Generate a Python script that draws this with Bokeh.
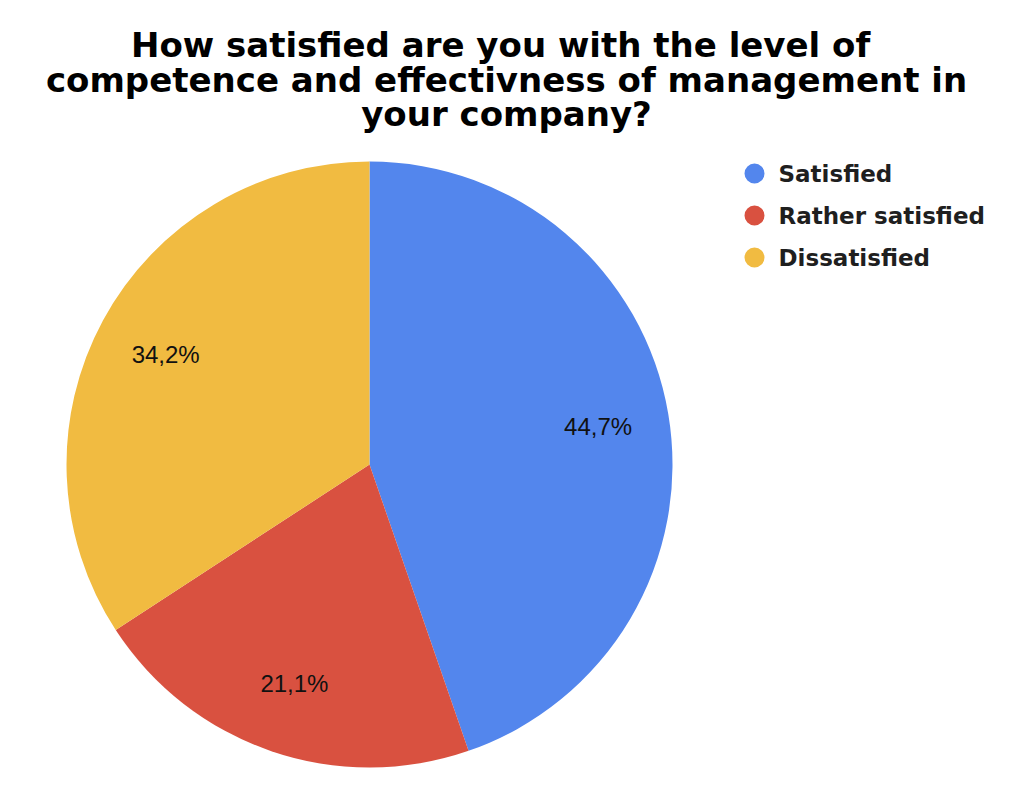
import math
from bokeh.plotting import figure
from bokeh.models import Range1d, ColumnDataSource
from bokeh.core.properties import value
from bokeh.embed import file_html
from bokeh.resources import INLINE

title_lines = ["How satisfied  are you with the level of",
               "competence and effectivness of management in",
               "your company?"]
categories = ["Satisfied", "Rather satisfied", "Dissatisfied"]
values = [44.7, 21.1, 34.2]
labels = ["44,7%", "21,1%", "34,2%"]
colors = ["#5386ED", "#D95140", "#F1BB41"]

W, H = 1008, 792
p = figure(width=W, height=H, output_backend="svg", toolbar_location=None,
           x_range=Range1d(0, W), y_range=Range1d(0, H), min_border=0)
p.axis.visible = False
p.grid.visible = False
p.outline_line_color = None
p.background_fill_color = "white"
p.border_fill_color = "white"

def py(page_y):
    return H - page_y

cx, cy, R = 369, py(464), 303
total = sum(values)
starts, ends, lx, ly = [], [], [], []
cum = 0.0
for v in values:
    a0 = math.pi / 2 - 2 * math.pi * cum / total
    a1 = math.pi / 2 - 2 * math.pi * (cum + v) / total
    starts.append(a0)
    ends.append(a1)
    mid = (a0 + a1) / 2
    lx.append(cx + 0.765 * R * math.cos(mid))
    ly.append(cy + 0.765 * R * math.sin(mid))
    cum += v

src = ColumnDataSource(dict(x=[cx] * 3, y=[cy] * 3, start=starts, end=ends,
                            color=colors, cat=categories))
p.wedge(x="x", y="y", radius=R, start_angle="start", end_angle="end",
        direction="clock", fill_color="color", line_color=None, source=src)

p.text(x=lx, y=ly, text=labels, text_font=value("Liberation Sans"),
       text_font_size="24px", text_color="#111111", text_align="center",
       text_baseline="middle")

# title
p.text(x=[506] * 3, y=[py(44), py(79), py(113)], text=title_lines,
       text_font=value("DejaVu Sans"), text_font_size="34px",
       text_font_style="bold", text_color="#000000",
       text_align="center", text_baseline="middle")

# legend (drawn manually)
leg_y = [py(173), py(215), py(257)]
p.scatter(x=[754] * 3, y=leg_y, marker="circle", size=20, fill_color=colors,
          line_color=None)
p.text(x=[778] * 3, y=leg_y, text=categories, text_font=value("DejaVu Sans"),
       text_font_size="23px", text_font_style="bold", text_color="#1f1f1f",
       text_align="left", text_baseline="middle")

open("out.html", "w").write(file_html(p, INLINE))
